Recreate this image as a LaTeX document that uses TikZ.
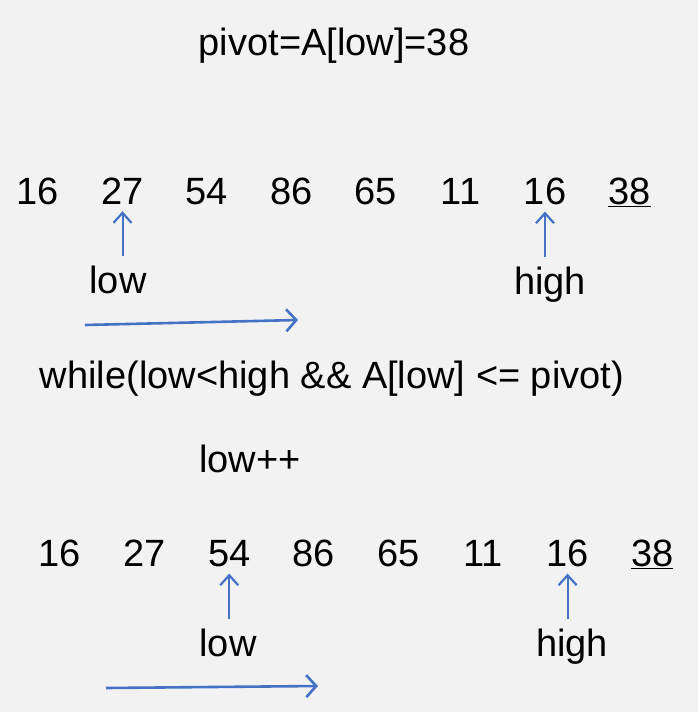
\documentclass[tikz,border=0pt]{standalone}
\usepackage{fontspec}
\setmainfont{Liberation Sans}
\usetikzlibrary{arrows.meta, positioning}
\definecolor{ptrblue}{HTML}{4472C4}
\definecolor{bggray}{HTML}{F2F2F2}
\tikzset{
    txt/.style={inner sep=0pt, anchor=base, font=\fontsize{38}{45}\selectfont},
    ptr/.style={draw=ptrblue, line width=2pt, -{Straight Barb[length=10pt, width=18pt, line width=2.2pt]}},
    sweep/.style={draw=ptrblue, line width=2.6pt, -{Straight Barb[length=10pt, width=22pt, line width=2.6pt]}}
}

\begin{document}
\begin{tikzpicture}[x=1pt, y=-1pt]
    % Background
    \fill[bggray] (0,0) rectangle (698,712);
    \useasboundingbox (0,0) rectangle (698,712);
    % Title
    \node (pivot) [txt] at (334,55) {pivot=A[low]=38};
    % First row
    \foreach \v [count=\i] in {16,27,54,86,65,11,16,\underline{38}} {
        \node (ra\i) [txt] at ({38+84.5*(\i-1)},204) {\v};
    }
    \node (lowa) [txt] at (118,293) {low};
    \node (higha) [txt] at (550,294) {high};
    \draw [ptr, shorten <=9pt, shorten >=7pt] (lowa.north -| ra2) -- (ra2.south);
    \draw [ptr, shorten <=9pt, shorten >=7pt] (higha.north -| ra7) -- (ra7.south);
    \coordinate (sweepa1) at (85,325);
    \coordinate (sweepa2) at (298,320);
    \draw [sweep] (sweepa1) -- (sweepa2);
    % Loop text
    \node (cond) [txt] at (332,388) {while(low<high \&\& A[low] <= pivot)};
    \node (inc) [txt] at (250,472) {low++};
    % Second row
    \foreach \v [count=\i] in {16,27,54,86,65,11,16,\underline{38}} {
        \node (rb\i) [txt] at ({60+84.6*(\i-1)},566) {\v};
    }
    \node (lowb) [txt] at (228,656) {low};
    \node (highb) [txt] at (572,656) {high};
    \draw [ptr, shorten <=9pt, shorten >=7pt] (lowb.north -| rb3) -- (rb3.south);
    \draw [ptr, shorten <=9pt, shorten >=7pt] (highb.north -| rb7) -- (rb7.south);
    \coordinate (sweepb1) at (106,688);
    \coordinate (sweepb2) at (318,686);
    \draw [sweep] (sweepb1) -- (sweepb2);
\end{tikzpicture}
\end{document}
